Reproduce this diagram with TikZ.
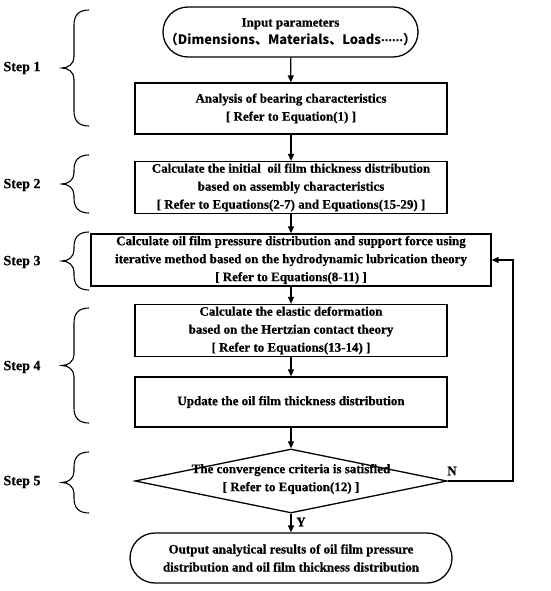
\documentclass[tikz,border=0pt]{standalone}
\usepackage{fontspec}
\setmainfont[FakeBold=0.6]{Liberation Serif}
\newfontfamily\cjk{Noto Sans CJK SC}
\newfontfamily\symf{DejaVu Sans}
\usetikzlibrary{shapes.geometric,arrows.meta}
\newcommand\stepbrace[3]{% x-right, y-top, y-bottom
  \pgfmathsetmacro\ym{(#2+#3)/2}
  \draw[bracel] (#1,#2) .. controls (#1-10,#2) and (#1-15,#2+5) .. (#1-15,#2+15)
    -- (#1-15,\ym-11) .. controls (#1-15,\ym-4) and (#1-21,\ym) .. (#1-27,\ym)
    .. controls (#1-21,\ym) and (#1-15,\ym+4) .. (#1-15,\ym+11)
    -- (#1-15,#3-15) .. controls (#1-15,#3-5) and (#1-10,#3) .. (#1,#3);}
\begin{document}
\begin{tikzpicture}[x=1pt,y=-1pt,
  box/.style={draw, line width=1.3pt, minimum width=312pt, minimum height=51pt, align=center, inner sep=2pt,
    font=\bfseries\fontsize{13}{18}\selectfont},
  term/.style={box, rounded corners=25pt},
  txt/.style={align=center, font=\bfseries\fontsize{13}{18}\selectfont},
  steplbl/.style={font=\bfseries\fontsize{14}{16}\selectfont},
  bracel/.style={line width=1.1pt},
  arr/.style={line width=1.2pt, -{Triangle[length=7pt,width=6pt]}}]
\useasboundingbox (0,0) rectangle (550,591);
\node[term, minimum width=255pt, minimum height=50pt] (in) at (290.5,32)
  {Input parameters\\\cjk{（}Dimensions\cjk{、}Materials\cjk{、}Loads{\symf\fontsize{11}{18}\selectfont ⋯⋯}\cjk{）}};
\node[box] (ana) at (291,108.5) {Analysis of bearing characteristics\\{[} Refer to Equation(1) ]};
\node[box] (init) at (291,187.5) {Calculate the initial\ \ oil film thickness distribution\\based on assembly characteristics\\{[} Refer to Equations(2-7) and Equations(15-29) ]};
\node[box, minimum width=400pt, minimum height=52pt] (press) at (291,260) {Calculate oil film pressure distribution and support force using\\iterative method based on the hydrodynamic lubrication theory\\{[} Refer to Equations(8-11) ]};
\node[box] (elast) at (291,330.5) {Calculate the elastic deformation\\based on the Hertzian contact theory\\{[} Refer to Equations(13-14) ]};
\node[box, minimum height=50pt] (upd) at (291,402) {Update the oil film thickness distribution};
\node[diamond, draw, line width=1.3pt, minimum width=312pt, minimum height=64pt, inner sep=0pt] (conv) at (291,481) {};
\node[txt] (convtxt) at (291,479) {The convergence criteria is satisfied\\{[} Refer to Equation(12) ]};
\node[term, minimum width=322pt, minimum height=50pt] (out) at (291,558) {Output analytical results of oil film pressure\\distribution and oil film thickness distribution};
\draw[arr] (in) -- (ana);
\draw[arr] (ana) -- (init);
\draw[arr] (init) -- (press);
\draw[arr] (press) -- (elast);
\draw[arr] (elast) -- (upd);
\draw[arr] (upd) -- (conv);
\draw[arr] (conv) -- (out);
\coordinate (fbr) at (513,481);
\coordinate (fbt) at (513,260);
\draw[arr] (conv.east) -- (fbr) -- (fbt) -- (press.east);
\node[txt] (nlbl) at (452,471) {N};
\node[txt] (ylbl) at (301,522) {Y};
\node[steplbl] (s1) at (22,68) {Step 1};
\node[steplbl] (s2) at (22,185) {Step 2};
\node[steplbl] (s3) at (22,262) {Step 3};
\node[steplbl] (s4) at (22,367) {Step 4};
\node[steplbl] (s5) at (22,482) {Step 5};
\stepbrace{89}{10}{126}
\stepbrace{89}{155}{213}
\stepbrace{89}{232}{290}
\stepbrace{89}{308}{423}
\stepbrace{89}{452}{513}
\end{tikzpicture}
\end{document}
